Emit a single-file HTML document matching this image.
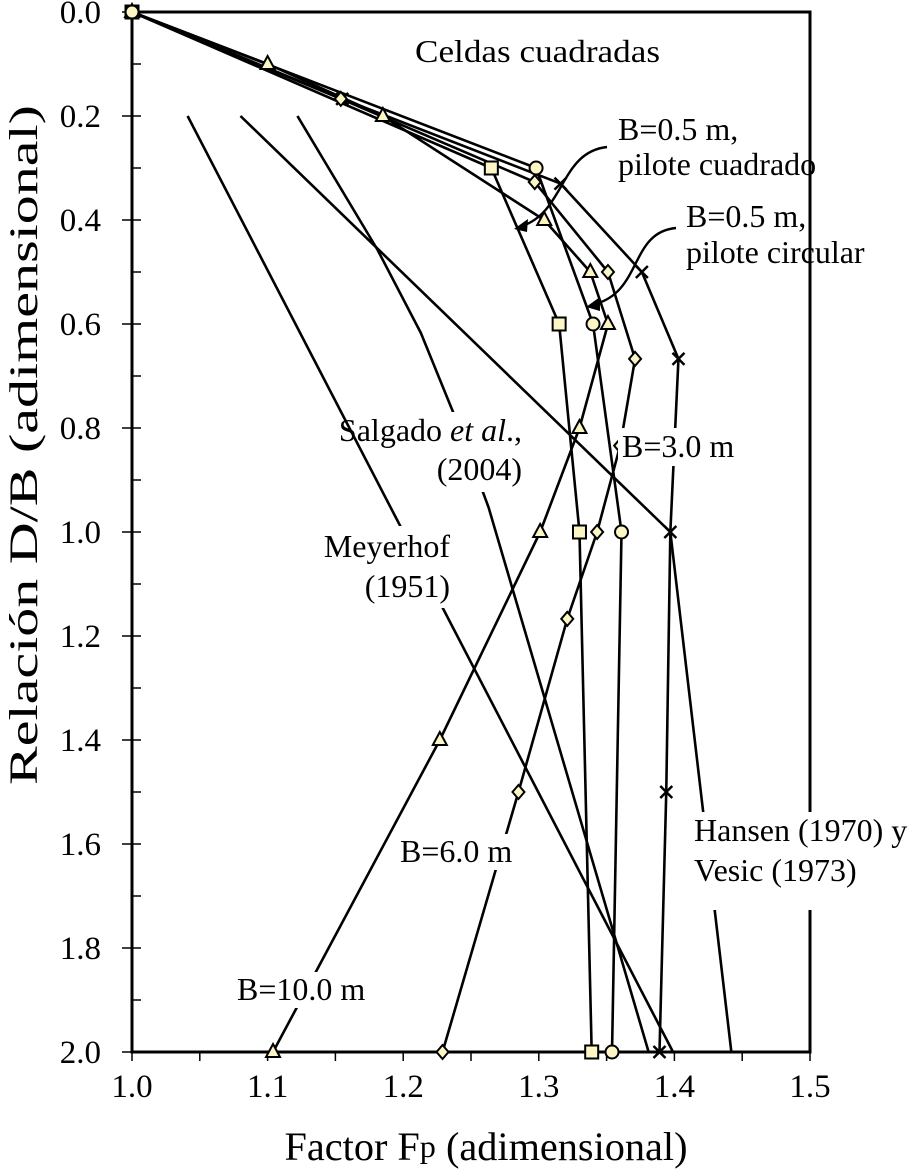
<!DOCTYPE html>
<html><head><meta charset="utf-8"><style>
html,body{margin:0;padding:0;background:#fff;}
svg{display:block;font-family:"Liberation Serif",serif;}
</style></head><body>
<svg id="chart" width="910" height="1172" viewBox="0 0 910 1172" xmlns="http://www.w3.org/2000/svg">
<g id="grid"></g>
<g id="refs"></g>
<g id="series"></g>
<g id="labels"></g>
</svg>
<script>
// ---- data ----
const xTicks = [1.0, 1.1, 1.2, 1.3, 1.4, 1.5];
const yTicks = [0.0, 0.2, 0.4, 0.6, 0.8, 1.0, 1.2, 1.4, 1.6, 1.8, 2.0];
const sqX = [1.0, 1.265, 1.315, 1.330, 1.339];
const sqY = [0.0, 0.30, 0.60, 1.00, 2.00];
const ciX = [1.0, 1.298, 1.340, 1.361, 1.354];
const ciY = [0.0, 0.30, 0.60, 1.00, 2.00];
const diX = [1.0, 1.154, 1.297, 1.351, 1.371, 1.360, 1.343, 1.321, 1.285, 1.229];
const diY = [0.0, 0.167, 0.327, 0.50, 0.667, 0.834, 1.00, 1.167, 1.50, 2.00];
const trX = [1.0, 1.100, 1.185, 1.304, 1.338, 1.351, 1.330, 1.301, 1.227, 1.104];
const trY = [0.0, 0.10, 0.20, 0.40, 0.50, 0.60, 0.80, 1.00, 1.40, 2.00];
const crX = [1.0, 1.155, 1.316, 1.376, 1.403, 1.397, 1.394, 1.389];
const crY = [0.0, 0.167, 0.33, 0.50, 0.667, 1.00, 1.50, 2.00];
const meyX = [1.041, 1.399];
const meyY = [0.20, 2.00];
const salX = [1.122, 1.181, 1.213, 1.240, 1.263, 1.381];
const salY = [0.20, 0.457, 0.617, 0.790, 0.953, 2.00];
const hanX = [1.080, 1.397, 1.442];
const hanY = [0.20, 1.00, 2.00];

// ---- axes ----
const X0 = 132, X1 = 810, Y0 = 12, Y1 = 1052;
const sx = v => X0 + (v - 1.0) / 0.5 * (X1 - X0);
const sy = v => Y0 + v / 2.0 * (Y1 - Y0);
const NS = "http://www.w3.org/2000/svg";
function mk(tag, attrs, parent) {
  const e = document.createElementNS(NS, tag);
  for (const k in attrs) e.setAttribute(k, attrs[k]);
  parent.appendChild(e);
  return e;
}
const grid = document.getElementById('grid');
const refs = document.getElementById('refs');
const ser = document.getElementById('series');
const lab = document.getElementById('labels');

const frame = mk('rect', {x: X0, y: Y0, width: X1 - X0, height: Y1 - Y0, fill: 'none', stroke: '#000', 'stroke-width': 3}, grid);



for (let i = 0; i <= 20; i++) {
  const y = sy(i * 0.1);
  const t = mk('line', {x1: X0, x2: X0 + 9, y1: y, y2: y, stroke: '#000', 'stroke-width': 1.5}, grid);
  
  
}
yTicks.forEach(v => {
  const y = sy(v);
  const t = mk('line', {x1: X0 - 10, x2: X0, y1: y, y2: y, stroke: '#000', 'stroke-width': 1.5}, grid);
  
  
  const l = mk('text', {x: 101, y: y + 11, 'text-anchor': 'end', 'font-size': 33}, grid);
  l.textContent = v.toFixed(1);
  
  
});
for (let i = 0; i <= 10; i++) {
  const x = sx(1 + i * 0.05);
  const t = mk('line', {x1: x, x2: x, y1: Y1, y2: Y1 + 9, stroke: '#000', 'stroke-width': 1.5}, grid);
  
  
}
xTicks.forEach(v => {
  const l = mk('text', {x: sx(v), y: 1097, 'text-anchor': 'middle', 'font-size': 33}, grid);
  l.textContent = v.toFixed(1);
  
  
});

function line(xs, ys, parent, name) {
  const pts = xs.map((x, i) => sx(x) + ',' + sy(ys[i])).join(' ');
  const p = mk('polyline', {points: pts, fill: 'none', stroke: '#000', 'stroke-width': 2.6, 'stroke-linejoin': 'round'}, parent);
  
  
}
line(meyX, meyY, refs, 'meyerhof-line');
line(salX, salY, refs, 'salgado-line');
line(hanX, hanY, refs, 'hansen-vesic-line');
line(sqX, sqY, ser, 'b05-square-line');
line(ciX, ciY, ser, 'b05-circular-line');
line(diX, diY, ser, 'b6-line');
line(trX, trY, ser, 'b10-line');
line(crX, crY, ser, 'b3-line');

const FILL = '#fbf6c4';
function markers(xs, ys, kind, name) {
  xs.forEach((xv, i) => {
    const x = sx(xv), y = sy(ys[i]);
    let m;
    if (kind === 'sq') m = mk('rect', {x: x - 6.5, y: y - 6.5, width: 13, height: 13, fill: FILL, stroke: '#000', 'stroke-width': 2}, ser);
    else if (kind === 'ci') m = mk('circle', {cx: x, cy: y, r: 6.5, fill: FILL, stroke: '#000', 'stroke-width': 2}, ser);
    else if (kind === 'di') m = mk('polygon', {points: `${x},${y-7} ${x+6},${y} ${x},${y+7} ${x-6},${y}`, fill: FILL, stroke: '#000', 'stroke-width': 2}, ser);
    else if (kind === 'tr') m = mk('polygon', {points: `${x},${y-8} ${x+7},${y+5} ${x-7},${y+5}`, fill: FILL, stroke: '#000', 'stroke-width': 2}, ser);
    else m = mk('path', {d: `M${x-6},${y-6}L${x+6},${y+6}M${x+6},${y-6}L${x-6},${y+6}`, stroke: '#000', 'stroke-width': 2.5}, ser);
    
    
  });
}
markers(crX, crY, 'cr', 'b3-marker');
markers(trX, trY, 'tr', 'b10-marker');
markers(diX, diY, 'di', 'b6-marker');
markers(sqX, sqY, 'sq', 'b05-square-marker');
markers(ciX, ciY, 'ci', 'b05-circular-marker');

// arrows
const a1 = mk('path', {d: 'M607,147 C560,152 565,212 522,226', fill: 'none', stroke: '#000', 'stroke-width': 2.4}, lab);


const h1 = mk('polygon', {points: '514,229 528,219 527,232', fill: '#000'}, lab);


const a2 = mk('path', {d: 'M676,228 C630,232 642,292 595,304', fill: 'none', stroke: '#000', 'stroke-width': 2.4}, lab);


const h2 = mk('polygon', {points: '586,307 600,297 600,311', fill: '#000'}, lab);



function text(x, y, str, name, opts) {
  const t = mk('text', Object.assign({x: x, y: y, 'font-size': 32}, opts || {}), lab);
  t.innerHTML = str;
  
  
  return t;
}
function bg(x, y, w, h, name) {
  const r = mk('rect', {x: x, y: y, width: w, height: h, fill: '#fff'}, lab);
  
  
}
bg(364, 412, 161, 36, 'salgado-label-bg-1');
bg(430, 448, 95, 44, 'salgado-label-bg-2');
bg(330, 526, 125, 82, 'meyerhof-label-bg');
bg(618, 428, 152, 38, 'b3-label-bg');
bg(692, 812, 218, 98, 'hansen-label-bg');
bg(398, 834, 120, 36, 'b6-label-bg');
bg(235, 972, 134, 36, 'b10-label-bg');

text(415, 62, 'Celdas cuadradas', 'title-celdas-cuadradas', {textLength: 245, lengthAdjust: 'spacingAndGlyphs'});
text(618, 140, 'B=0.5 m,', 'label-b05-square-1');
text(618, 175, 'pilote cuadrado', 'label-b05-square-2');
text(686, 227, 'B=0.5 m,', 'label-b05-circular-1');
text(686, 263, 'pilote circular', 'label-b05-circular-2');
text(522, 441, 'Salgado <tspan font-style="italic">et al</tspan>.,', 'label-salgado-1', {'text-anchor': 'end'});
text(522, 480, '(2004)', 'label-salgado-2', {'text-anchor': 'end'});
text(450, 557, 'Meyerhof', 'label-meyerhof-1', {'text-anchor': 'end'});
text(450, 597, '(1951)', 'label-meyerhof-2', {'text-anchor': 'end'});
text(622, 457, 'B=3.0 m', 'label-b3');
text(694, 841, 'Hansen (1970) y', 'label-hansen');
text(694, 881, 'Vesic (1973)', 'label-vesic');
text(400, 862, 'B=6.0 m', 'label-b6');
text(237, 1000, 'B=10.0 m', 'label-b10');

const xt = text(486, 1160, 'Factor F<tspan font-size="32" dy="-3">p</tspan><tspan dy="3"> (adimensional)</tspan>', 'x-axis-title', {'text-anchor': 'middle', 'font-size': 40, textLength: 403, lengthAdjust: 'spacingAndGlyphs'});
const yt = mk('text', {x: 0, y: 0, 'text-anchor': 'middle', 'font-size': 40, textLength: 680, lengthAdjust: 'spacingAndGlyphs', transform: 'translate(37,445) rotate(-90)'}, lab);
yt.textContent = 'Relación D/B (adimensional)';


</script>
</body></html>
